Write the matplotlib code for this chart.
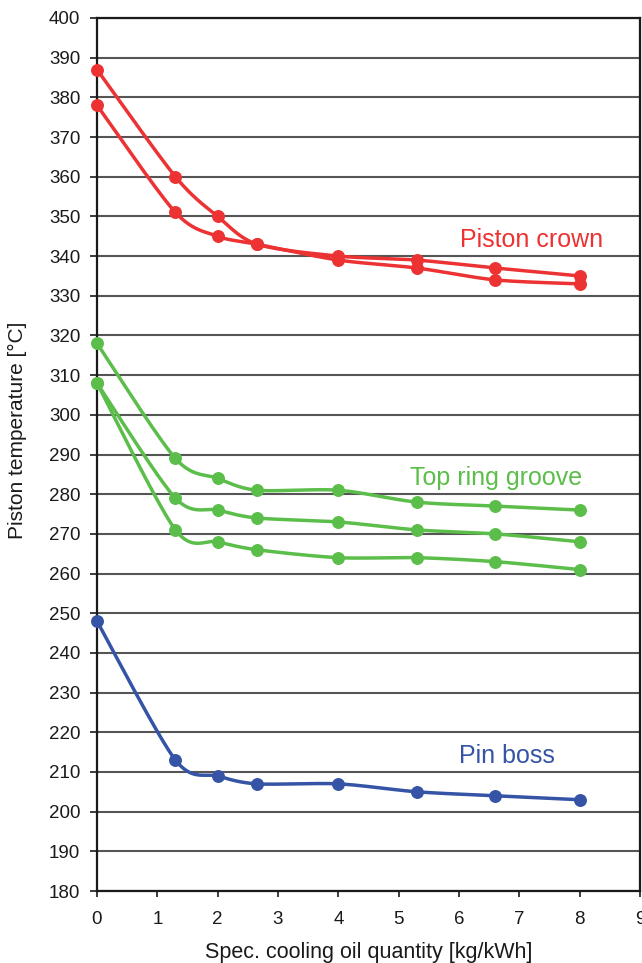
import numpy as np
import matplotlib
matplotlib.use("Agg")
import matplotlib.pyplot as plt

plt.rcParams['font.family'] = ['Liberation Sans', 'DejaVu Sans']

# Specific cooling oil quantity [kg/kWh]
oil_qty = [0.0, 1.3, 2.0, 2.65, 4.0, 5.3, 6.6, 8.0]

# Piston temperatures [°C]
crown_a = [387, 360, 350, 343, 340, 339, 337, 335]
crown_b = [378, 351, 345, 343, 339, 337, 334, 333]
groove_a = [318, 289, 284, 281, 281, 278, 277, 276]
groove_b = [308, 279, 276, 274, 273, 271, 270, 268]
groove_c = [308, 271, 268, 266, 264, 264, 263, 261]
pin_boss = [248, 213, 209, 207, 207, 205, 204, 203]

x_ticks = list(range(0, 10))
y_ticks = list(range(180, 401, 10))

RED = '#EC3232'
GREEN = '#5CBE4A'
BLUE = '#3554A6'


def smooth(xs, ys, n=40, k=7.0):
    """Cardinal-spline Bezier smoothing through every point."""
    p = np.column_stack([xs, ys]).astype(float)
    ext = np.vstack([p[0], p, p[-1]])
    out = []
    t = np.linspace(0, 1, n)[:, None]
    for i in range(len(p) - 1):
        p0, p1 = ext[i + 1], ext[i + 2]
        c1 = p0 + (ext[i + 2] - ext[i]) / k
        c2 = p1 - (ext[i + 3] - ext[i + 1]) / k
        seg = ((1 - t) ** 3) * p0 + 3 * ((1 - t) ** 2) * t * c1 \
            + 3 * (1 - t) * t ** 2 * c2 + t ** 3 * p1
        out.append(seg if i == 0 else seg[1:])
    out = np.vstack(out)
    return out[:, 0], out[:, 1]


fig = plt.figure(figsize=(6.42, 9.63), dpi=100)
ax = fig.add_axes([97 / 642, 72 / 963, 543 / 642, 873 / 963])

series = [(crown_a, RED), (crown_b, RED),
          (groove_a, GREEN), (groove_b, GREEN), (groove_c, GREEN),
          (pin_boss, BLUE)]
for ys, col in series:
    sx, sy = smooth(oil_qty, ys)
    ax.plot(sx, sy, color=col, lw=2.5, solid_capstyle='round', zorder=4, clip_on=False)
    ax.plot(oil_qty, ys, 'o', color=col, ms=8.3, mec=col, zorder=5, clip_on=False)

ax.set_xlim(0, 9)
ax.set_ylim(180, 400)
ax.set_xticks(x_ticks)
ax.set_yticks(y_ticks)
ax.yaxis.grid(True, color='#555555', lw=1.5)
ax.set_axisbelow(True)
for s in ax.spines.values():
    s.set_linewidth(1.6)
    s.set_color('#1a1a1a')
ax.tick_params(axis='y', direction='out', length=5, width=1.2, pad=7,
               labelsize=13.5, colors='#1a1a1a')
ax.tick_params(axis='x', direction='out', length=4.5, width=1.2, pad=10,
               labelsize=13.5, colors='#1a1a1a')

ax.text(6.02, 342.3, 'Piston crown', color=RED, fontsize=18, ha='left', va='baseline')
ax.text(5.19, 282.3, 'Top ring groove', color=GREEN, fontsize=18, ha='left', va='baseline')
ax.text(6.0, 212.3, 'Pin boss', color=BLUE, fontsize=18, ha='left', va='baseline')

fig.text(368.5 / 642, 1 - 958 / 963, 'Spec. cooling oil quantity [kg/kWh]',
         fontsize=15.5, ha='center', va='baseline', color='#1a1a1a')
fig.text(17 / 642, 1 - 430 / 963, 'Piston temperature [°C]', rotation=90,
         fontsize=15, ha='center', va='center', color='#1a1a1a')

fig.savefig('out.png', dpi=100)
